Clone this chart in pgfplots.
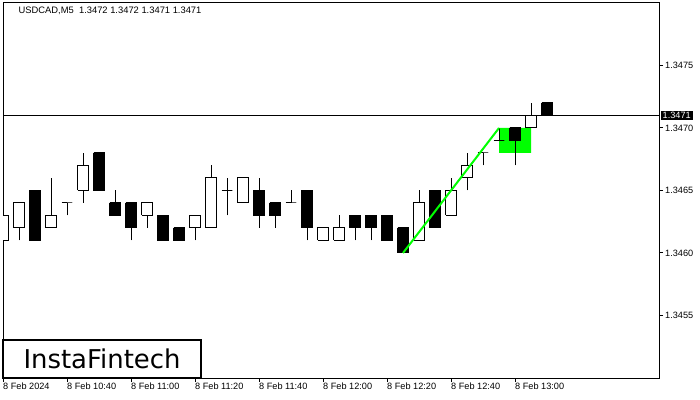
\documentclass[border=0pt]{standalone}
\usepackage{pgfplots}
\pgfplotsset{compat=1.18}
\usepackage{fontspec}
\setmainfont{Liberation Sans}
\newfontfamily\logofont{DejaVu Sans}

\definecolor{flaggreen}{RGB}{0,255,0}

% one candle: index, open, high, low, close
\newcommand\candle[5]{%
  \pgfmathsetmacro\xl{#1-0.333}%
  \pgfmathsetmacro\xr{#1+0.333}%
  \addplot[black, line width=1bp] coordinates {(#1,#4) (#1,#3)};
  \ifdim #2pt>#5pt
    \addplot[black, fill=black, line width=1bp] coordinates {
      (\xl,#2) (\xr,#2) (\xr,#5) (\xl,#5) (\xl,#2)};
  \else
    \addplot[black, fill=white, line width=1bp] coordinates {
      (\xl,#2) (\xr,#2) (\xr,#5) (\xl,#5) (\xl,#2)};
  \fi}

\begin{document}
\begin{tikzpicture}
\path[use as bounding box] (-3bp,-22bp) rectangle (697bp,378bp);
\begin{axis}[
  at={(0,0)}, anchor=south west,
  width=656bp, height=375bp, scale only axis,
  xmin=0, xmax=41, ymin=1.3450, ymax=1.3480,
  axis line style={black, line width=1bp},
  xtick={0,4,8,12,16,20,24,28,32},
  xticklabels={8 Feb 2024, 8 Feb 10:40, 8 Feb 11:00, 8 Feb 11:20, 8 Feb 11:40,
    8 Feb 12:00, 8 Feb 12:20, 8 Feb 12:40, 8 Feb 13:00},
  ytick={1.3455,1.3460,1.3465,1.3470,1.3475},
  yticklabels={1.3455,1.3460,1.3465,1.3470,1.3475},
  xtick pos=left, ytick pos=right, yticklabel pos=right,
  tick align=outside, major tick length=4bp,
  tick style={black, line width=1bp},
  ticklabel style={font=\fontsize{9.2}{10}\selectfont},
  xticklabel style={anchor=north west, inner xsep=0pt, inner ysep=1bp},
  yticklabel style={anchor=west, inner xsep=2bp},
  clip mode=individual,
]
  % flag area
  \addplot[draw=none, fill=flaggreen] coordinates {
    (31,1.3468) (33,1.3468) (33,1.3470) (31,1.3470) (31,1.3468)};
  % current price line
  \addplot[black, line width=1bp] coordinates {(0,1.3471) (41,1.3471)};

  \candle{0}{1.3461}{1.3463}{1.3459}{1.3463}
  \candle{1}{1.3462}{1.3464}{1.3461}{1.3464}
  \candle{2}{1.3465}{1.3465}{1.3461}{1.3461}
  \candle{3}{1.3462}{1.3466}{1.3462}{1.3463}
  \candle{4}{1.3464}{1.3464}{1.3463}{1.3464}
  \candle{5}{1.3465}{1.3468}{1.3464}{1.3467}
  \candle{6}{1.3468}{1.3468}{1.3465}{1.3465}
  \candle{7}{1.3464}{1.3465}{1.3463}{1.3463}
  \candle{8}{1.3464}{1.3464}{1.3461}{1.3462}
  \candle{9}{1.3463}{1.3464}{1.3462}{1.3464}
  \candle{10}{1.3463}{1.3463}{1.3461}{1.3461}
  \candle{11}{1.3462}{1.3462}{1.3461}{1.3461}
  \candle{12}{1.3462}{1.3463}{1.3461}{1.3463}
  \candle{13}{1.3462}{1.3467}{1.3462}{1.3466}
  \candle{14}{1.3465}{1.3466}{1.3463}{1.3465}
  \candle{15}{1.3464}{1.3466}{1.3464}{1.3466}
  \candle{16}{1.3465}{1.3466}{1.3462}{1.3463}
  \candle{17}{1.3464}{1.3464}{1.3462}{1.3463}
  \candle{18}{1.3464}{1.3465}{1.3464}{1.3464}
  \candle{19}{1.3465}{1.3465}{1.3461}{1.3462}
  \candle{20}{1.3461}{1.3462}{1.3461}{1.3462}
  \candle{21}{1.3461}{1.3463}{1.3461}{1.3462}
  \candle{22}{1.3463}{1.3463}{1.3461}{1.3462}
  \candle{23}{1.3463}{1.3463}{1.3461}{1.3462}
  \candle{24}{1.3463}{1.3463}{1.3461}{1.3461}
  \candle{25}{1.3462}{1.3462}{1.3460}{1.3460}
  \candle{26}{1.3461}{1.3465}{1.3461}{1.3464}
  \candle{27}{1.3465}{1.3465}{1.3462}{1.3462}
  \candle{28}{1.3463}{1.3466}{1.3463}{1.3465}
  \candle{29}{1.3466}{1.3468}{1.3465}{1.3467}
  \candle{30}{1.3468}{1.3468}{1.3467}{1.3468}
  \candle{31}{1.3469}{1.3470}{1.3469}{1.3469}
  \candle{32}{1.3470}{1.3470}{1.3467}{1.3469}
  \candle{33}{1.3470}{1.3472}{1.3470}{1.3471}
  \candle{34}{1.3472}{1.3472}{1.3471}{1.3471}

  % flag pole
  \addplot[flaggreen, line width=2bp] coordinates {(25,1.3460) (31,1.3470)};

  \node[fill=black, text=white, anchor=west, inner xsep=2bp, inner ysep=1bp,
    font=\fontsize{9.2}{10}\selectfont, xshift=1.5bp] at (axis cs:41,1.3471) {1.3471};
  \node[anchor=north west, inner sep=0pt, font=\fontsize{9.4}{10}\selectfont]
    at ([xshift=15.5bp, yshift=-4bp]rel axis cs:0,1) {USDCAD,M5\ \ 1.3472 1.3472 1.3471 1.3471};
  \draw[black, line width=2.5bp, fill=white] (rel axis cs:0,0) rectangle (rel axis cs:0.3018,0.1013);
  \node[font=\logofont\fontsize{26}{28}\selectfont, inner sep=0pt]
    at (rel axis cs:0.1509,0.0507) {InstaFintech};
\end{axis}
\end{tikzpicture}
\end{document}
